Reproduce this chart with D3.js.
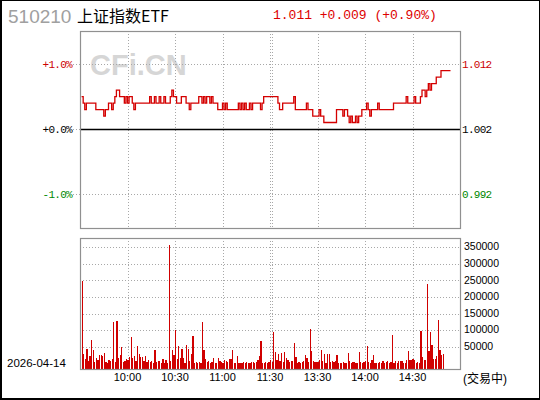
<!DOCTYPE html>
<html>
<head>
<meta charset="utf-8">
<script src="https://cdn.jsdelivr.net/npm/d3@7/dist/d3.min.js"></script>
<style>
  body { margin: 0; background: #fff; }
  svg { display: block; }
</style>
</head>
<body>
<svg width="540" height="400"></svg>
<script>
// chart data
var code = '510210';
var fundName = '上证指数ETF';
var dateLabel = '2026-04-14';
var statusLabel = '(交易中)';
var prevClose = 1.002;
var timeTicks = [30, 60, 90, 120, 150, 180, 210];
var timeLabels = ['10:00', '10:30', '11:00', '11:30', '13:30', '14:00', '14:30'];
var pctTicks = [1, 0, -1];
var volTicks = [50000, 100000, 150000, 200000, 250000, 300000, 350000];

// one price per minute, starting at 9:31
var prices = [
  1.007,1.006,1.005,1.006,1.006,1.006,1.006,1.006,1.006,1.005,
  1.005,1.005,1.005,1.005,1.004,1.005,1.005,1.006,1.006,1.005,
  1.006,1.007,1.008,1.008,1.007,1.007,1.007,1.006,1.007,1.006,
  1.007,1.007,1.006,1.005,1.006,1.006,1.006,1.006,1.006,1.006,
  1.006,1.006,1.006,1.007,1.006,1.006,1.007,1.006,1.006,1.007,
  1.006,1.006,1.007,1.006,1.006,1.006,1.007,1.008,1.007,1.007,
  1.006,1.006,1.006,1.007,1.007,1.007,1.006,1.006,1.005,1.006,
  1.006,1.006,1.006,1.006,1.007,1.007,1.006,1.007,1.006,1.007,
  1.007,1.006,1.007,1.006,1.006,1.006,1.005,1.005,1.005,1.006,
  1.005,1.006,1.005,1.005,1.005,1.005,1.005,1.005,1.005,1.006,
  1.005,1.006,1.005,1.006,1.005,1.005,1.006,1.005,1.006,1.006,
  1.006,1.006,1.006,1.005,1.006,1.007,1.007,1.007,1.007,1.007,
  1.007,1.007,1.007,1.007,1.006,1.005,1.005,1.006,1.006,1.006,
  1.006,1.006,1.006,1.006,1.007,1.005,1.005,1.005,1.005,1.005,
  1.005,1.005,1.006,1.005,1.005,1.005,1.004,1.004,1.004,1.004,
  1.005,1.004,1.004,1.003,1.003,1.003,1.003,1.003,1.003,1.003,
  1.003,1.005,1.005,1.005,1.005,1.004,1.005,1.005,1.004,1.003,
  1.004,1.003,1.003,1.004,1.003,1.004,1.004,1.005,1.005,1.005,
  1.006,1.005,1.004,1.005,1.005,1.005,1.005,1.006,1.005,1.005,
  1.005,1.005,1.005,1.005,1.005,1.005,1.005,1.006,1.006,1.006,
  1.006,1.006,1.006,1.006,1.006,1.007,1.006,1.006,1.006,1.006,
  1.007,1.006,1.006,1.006,1.007,1.008,1.008,1.007,1.008,1.009,
  1.008,1.009,1.009,1.009,1.010,1.010,1.010,1.011,1.011,1.011,
  1.011,1.011,1.011,1.011
];

// one volume per minute, starting at 9:31
var volumes = [
  92000,248000,28000,13000,43000,8000,22000,70000,40000,4000,
  16000,10000,25000,25000,22000,31000,4000,1000,10000,8000,
  13000,124000,4000,127000,16000,25000,49000,4000,7000,13000,
  10000,19000,79000,16000,22000,7000,52000,28000,19000,19000,
  7000,22000,4000,10000,4000,7000,1000,40000,4000,7000,
  7000,1000,13000,1000,10000,1000,358000,7000,40000,25000,
  100000,13000,52000,16000,43000,16000,1000,55000,43000,7000,
  28000,82000,1000,4000,1000,4000,1000,124000,40000,13000,
  4000,7000,1000,4000,16000,1000,1000,16000,7000,4000,
  1000,10000,7000,4000,13000,13000,40000,1000,1000,22000,
  1000,1000,1000,4000,1000,4000,1000,1000,4000,4000,
  1000,4000,10000,22000,67000,1000,1000,4000,1000,4000,
  10000,4000,94000,34000,10000,28000,7000,31000,4000,34000,
  16000,10000,4000,7000,7000,61000,19000,1000,4000,1000,
  4000,7000,25000,16000,4000,103000,37000,7000,4000,4000,
  4000,10000,40000,7000,28000,1000,28000,28000,4000,7000,
  4000,7000,25000,1000,1000,1000,4000,1000,1000,31000,
  7000,1000,4000,4000,1000,1000,34000,4000,1000,4000,
  7000,52000,4000,1000,10000,25000,1000,1000,1000,4000,
  1000,7000,1000,4000,7000,1000,4000,85000,1000,7000,
  1000,7000,7000,7000,1000,1000,10000,37000,10000,10000,
  13000,10000,1000,4000,1000,97000,19000,10000,10000,238000,
  37000,94000,55000,13000,13000,22000,130000,40000,25000,28000
];

var svg = d3.select('svg');
var W = 540, H = 400;
var left = 80, right = 460;
var priceTop = 31, priceBottom = 228;
var volTop = 238, volBottom = 369;

var red = '#cc0000', green = '#008800', gridColor = '#a8a8a8';
var monoFont = '"Liberation Mono", "DejaVu Sans Mono", monospace';
var sansFont = '"Liberation Sans", Arial, sans-serif';

var x = d3.scaleLinear().domain([0, 240]).range([left, right]);
var yPct = d3.scaleLinear().domain([-1, 1]).range([194, 64]);
var yVol = d3.scaleLinear().domain([0, 350000]).range([363.3, 247.3]);

function pctOf(p) { return (p - prevClose) / prevClose * 100; }

// outer frame
svg.append('rect').attr('x', 0.5).attr('y', 0.5).attr('width', W - 1).attr('height', H - 1)
  .attr('fill', '#fff').attr('stroke', '#000');
svg.append('line').attr('x1', 1.5).attr('x2', 1.5).attr('y1', 0).attr('y2', H)
  .attr('stroke', '#000');
svg.append('line').attr('x1', 0).attr('x2', W).attr('y1', H - 1.5).attr('y2', H - 1.5)
  .attr('stroke', '#000');

// header
var last = prices[prices.length - 1];
var chg = last - prevClose;
svg.append('text').attr('x', 8).attr('y', 23).text(code)
  .attr('font-family', sansFont).attr('font-size', 19).attr('fill', '#a0a0a0');
svg.append('text').attr('x', 77).attr('y', 22).text(fundName)
  .attr('font-family', '"Noto Sans CJK SC", sans-serif').attr('font-size', 16).attr('fill', '#000');
svg.append('text').attr('x', 273).attr('y', 19)
  .text(d3.format('.3f')(last) + ' ' + d3.format('+.3f')(chg) + ' (' + d3.format('+.2f')(pctOf(last)) + '%)')
  .attr('font-family', monoFont).attr('font-size', 13).attr('fill', '#dd0000');

// watermark
svg.append('text').attr('x', 90).attr('y', 75).text('CFi.CN')
  .attr('font-family', sansFont).attr('font-weight', 'bold').attr('font-size', 29).attr('fill', '#d6d6d6');

// vertical grid, both panels
[[priceTop, priceBottom], [volTop, volBottom]].forEach(function (p) {
  svg.append('g').selectAll('line').data(timeTicks).enter().append('line')
    .attr('x1', function (d) { return Math.round(x(d)) + 0.5; })
    .attr('x2', function (d) { return Math.round(x(d)) + 0.5; })
    .attr('y1', p[0]).attr('y2', p[1])
    .attr('stroke', gridColor).attr('stroke-dasharray', '1,2');
});
// lunch break shows as a doubled line
svg.append('g').selectAll('line').data([[priceTop, priceBottom], [volTop, volBottom]]).enter().append('line')
  .attr('x1', Math.round(x(120)) + 2.5).attr('x2', Math.round(x(120)) + 2.5)
  .attr('y1', function (d) { return d[0]; }).attr('y2', function (d) { return d[1]; })
  .attr('stroke', gridColor).attr('stroke-dasharray', '1,2');

// price panel horizontal lines and labels
pctTicks.forEach(function (t) {
  var y = Math.round(yPct(t)) + 0.5;
  svg.append('line').attr('x1', 73).attr('x2', left).attr('y1', y).attr('y2', y)
    .attr('stroke', gridColor).attr('stroke-dasharray', '1,2');
  if (t === 0) {
    svg.append('line').attr('x1', left).attr('x2', right).attr('y1', y).attr('y2', y)
      .attr('stroke', '#000').attr('stroke-width', 1.6);
  } else {
    svg.append('line').attr('x1', left).attr('x2', right).attr('y1', y).attr('y2', y)
      .attr('stroke', gridColor).attr('stroke-dasharray', '1,2');
  }
  var col = t > 0 ? red : (t < 0 ? green : '#000');
  svg.append('text').attr('x', 72).attr('y', y).attr('dy', '0.36em').attr('text-anchor', 'end')
    .text((t < 0 ? '-' : '+') + d3.format('.1f')(Math.abs(t)) + '%')
    .attr('font-family', monoFont).attr('font-size', 11).attr('letter-spacing', -0.7).attr('fill', col);
  svg.append('text').attr('x', 462).attr('y', y).attr('dy', '0.36em')
    .text(d3.format('.3f')(prevClose * (1 + t / 100)))
    .attr('font-family', monoFont).attr('font-size', 11).attr('letter-spacing', -0.7).attr('fill', col);
});

// price line
var line = d3.line()
  .x(function (d, i) { return x(i + 1); })
  .y(function (d) { return yPct(pctOf(d)); })
  .curve(d3.curveStepAfter);
svg.append('path').datum(prices).attr('d', line)
  .attr('fill', 'none').attr('stroke', '#d40000').attr('stroke-width', 1.3);

// volume grid and labels
svg.append('g').selectAll('line').data(volTicks).enter().append('line')
  .attr('x1', left).attr('x2', right)
  .attr('y1', function (d) { return Math.round(yVol(d)) + 0.5; })
  .attr('y2', function (d) { return Math.round(yVol(d)) + 0.5; })
  .attr('stroke', gridColor).attr('stroke-dasharray', '1,2');
svg.append('g').selectAll('text').data(volTicks).enter().append('text')
  .attr('x', 464).attr('y', function (d) { return yVol(d); }).attr('dy', '0.3em')
  .text(function (d) { return d; })
  .attr('font-family', sansFont).attr('font-size', 10.5).attr('fill', '#000');

// volume bars
svg.append('g').attr('shape-rendering', 'crispEdges').selectAll('rect').data(volumes).enter().append('rect')
  .attr('x', function (d, i) { return x(i + 1) - 1.6; })
  .attr('width', 1.2)
  .attr('y', function (d) { return yVol(d); })
  .attr('height', function (d) { return volBottom - yVol(d); })
  .attr('fill', '#d00000');

// panel frames
[[priceTop, priceBottom], [volTop, volBottom]].forEach(function (p) {
  svg.append('rect').attr('x', left + 0.5).attr('y', p[0] + 0.5)
    .attr('width', right - left).attr('height', p[1] - p[0])
    .attr('fill', 'none').attr('stroke', '#909090').attr('stroke-width', 1.2);
});

// time axis
svg.append('g').selectAll('text').data(timeTicks).enter().append('text')
  .attr('x', function (d) { return x(d); }).attr('y', 381).attr('text-anchor', 'middle')
  .text(function (d, i) { return timeLabels[i]; })
  .attr('font-family', sansFont).attr('font-size', 11).attr('fill', '#000');

svg.append('text').attr('x', 7).attr('y', 367).text(dateLabel)
  .attr('font-family', sansFont).attr('font-size', 11.5).attr('fill', '#000');
svg.append('text').attr('x', 463).attr('y', 383).text(statusLabel)
  .attr('font-family', sansFont + ', "Noto Sans CJK SC"').attr('font-size', 12).attr('fill', '#000');
</script>
</body>
</html>
